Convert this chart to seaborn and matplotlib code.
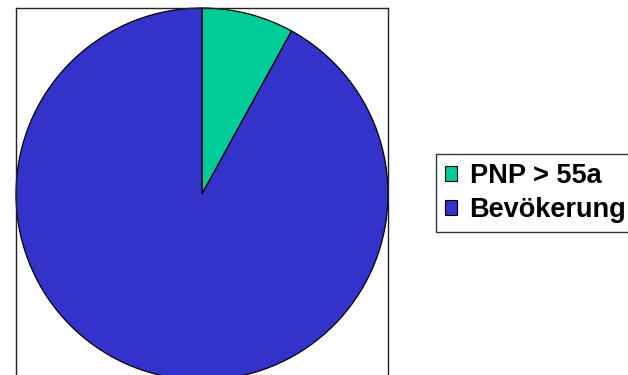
import matplotlib
matplotlib.use("Agg")
import matplotlib.pyplot as plt
import seaborn as sns
from matplotlib.patches import Patch

categories = ["PNP > 55a", "Bevökerung"]
values = [8, 92]
colors = ["#00CC99", "#3333CC"]

sns.set_theme(style="white")
plt.rcParams['font.family'] = ['Liberation Sans', 'DejaVu Sans']
plt.rcParams['text.color'] = 'black'

W, H = 628, 375
fig = plt.figure(figsize=(W / 100, H / 100), dpi=100)
ax = fig.add_axes([16 / W, (H - 380) / H, 372 / W, 372 / H])
ax.pie(values, colors=colors, startangle=90, counterclock=False,
       wedgeprops=dict(edgecolor="black", linewidth=0.9), radius=1.0)
ax.set_xlim(-1, 1)
ax.set_ylim(-1, 1)
ax.set_aspect("auto")
ax.set_frame_on(True)
for s in ax.spines.values():
    s.set_visible(True)
    s.set_color("#222222")
    s.set_linewidth(1.0)
ax.set_xticks([])
ax.set_yticks([])

handles = [Patch(facecolor=c, edgecolor="black", linewidth=0.8) for c in colors]
leg = fig.legend(handles, categories, loc="upper left",
                 bbox_to_anchor=(436 / W, 1 - 154 / H),
                 frameon=True, fancybox=False, edgecolor="black",
                 prop=dict(weight="bold", size=19.5),
                 handlelength=0.46, handleheight=0.46, handletextpad=0.45,
                 labelspacing=0.3, borderpad=0.33, borderaxespad=0)
leg.get_frame().set_linewidth(1.0)
for t in leg.get_texts():
    t.set_color("black")

fig.savefig("out.png", dpi=100)
